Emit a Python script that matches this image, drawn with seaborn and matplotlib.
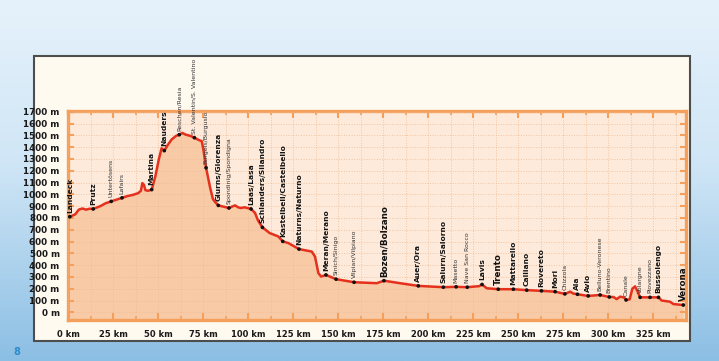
import numpy as np
import matplotlib
matplotlib.use("Agg")
import matplotlib.pyplot as plt
import seaborn as sns
from matplotlib.patches import Rectangle
from matplotlib.colors import LinearSegmentedColormap

# ---- data ----
profile_km = [1, 4, 6, 8, 10, 12, 14, 18, 21, 24, 27, 30, 33, 36, 39, 40.5, 41.3, 42.2, 43, 44.5,
              46.5, 48.5, 50.5, 52, 53.5, 55.5, 57.6, 60, 61.8, 63.5, 65.5, 68, 70.2, 72.4, 74.3,
              75.2, 76.7, 78.9, 80.5, 81.7, 83.5, 86.5, 89.4, 91, 92.8, 94.5, 96, 98, 101.7,
              103.9, 105.5, 108, 112, 116.8, 119.3, 122.4, 128.3, 135.4, 137.2, 139.1, 140.6,
              143.3, 148.9, 158.9, 171.5, 175.5, 184.4, 194.6, 208.5, 215.6, 221.8, 228.5, 230,
              232.6, 239, 247.4, 254.8, 263, 270.6, 276, 279, 280.5, 283, 289, 295.6, 300.7, 303,
              304.8, 306.7, 309, 310, 312, 313.5, 315, 316.3, 317.8, 323.3, 328, 329.8, 334.4,
              336.3, 341.8]
profile_m = [810, 830, 870, 880, 870, 878, 876, 900, 925, 940, 955, 970, 985, 995, 1010, 1030,
             1095, 1080, 1035, 1030, 1040, 1150, 1300, 1390, 1370, 1420, 1465, 1495, 1505, 1520,
             1505, 1495, 1480, 1462, 1450, 1380, 1225, 1060, 960, 935, 906, 895, 884, 895, 906,
             890, 884, 890, 876, 842, 780, 720, 672, 643, 601, 587, 536, 515, 473, 332, 303,
             317, 281, 255, 247, 268, 247, 224, 213, 216, 213, 222, 236, 204, 196, 196, 188,
             182, 175, 156, 175, 160, 153, 139, 147, 130, 130, 112, 133, 125, 105, 110, 200,
             220, 180, 127, 127, 127, 100, 90, 70, 62]

towns = ["Landeck", "Prutz", "Untertösens", "Lafairs", "Martina", "Nauders", "Reschen/Resia",
         "St. Valentin/S. Valentino", "Burgeis/Burgusio", "Glurns/Glorenza",
         "Spondinig/Spondigna", "Laas/Lasa", "Schlanders/Silandro", "Kastelbell/Castelbello",
         "Naturns/Naturno", "Meran/Merano", "Sinich/Sinigo", "Vilpian/Vilpiano",
         "Bozen/Bolzano", "Auer/Ora", "Salurn/Salorno", "Masetto", "Nave San Rocco", "Lavis",
         "Trento", "Mattarello", "Calliano", "Rovereto", "Mori", "Chizzola", "Ala", "Avio",
         "Belluno-Veronese", "Brentino", "Canale", "Volargne", "Piovezzano", "Bussolengo",
         "Verona"]
town_km = [1, 14, 24, 30, 46.5, 53.5, 61.8, 70.2, 76.7, 83.5, 89.4, 101.7, 108, 119.3, 128.3,
           143.3, 148.9, 158.9, 175.5, 194.6, 208.5, 215.6, 221.8, 230, 239, 247.4, 254.8, 263,
           270.6, 276, 283, 289, 295.6, 300.7, 310, 317.8, 323.3, 328, 341.8]
town_m = [810, 876, 940, 970, 1040, 1370, 1505, 1480, 1225, 906, 884, 876, 720, 601, 536, 317,
          281, 255, 268, 224, 213, 216, 213, 236, 196, 196, 188, 182, 175, 156, 153, 139, 147,
          130, 105, 127, 127, 127, 62]
town_style = ["b", "b", "s", "s", "b", "b", "s", "s", "s", "b", "s", "b", "b", "b", "b", "b",
              "s", "s", "B", "b", "b", "s", "s", "b", "B", "b", "b", "b", "b", "s", "b", "b",
              "s", "s", "s", "s", "s", "b", "B"]

x_ticks = list(range(0, 326, 25))
x_minor = [12.5 + 25 * i for i in range(14)]
y_ticks = list(range(0, 1701, 100))
x_labels = [f"{v} km" for v in x_ticks]
y_labels = [f"{v} m" for v in y_ticks]

# ---- styling ----
FONT = ['Liberation Sans Narrow', 'DejaVu Sans']
plt.rcParams['font.family'] = FONT
ORANGE = '#f4a05c'
W, H = 719, 361

fig = plt.figure(figsize=(W / 100, H / 100), dpi=100)

# background gradient + panel
bg = fig.add_axes([0, 0, 1, 1], zorder=-10)
cmap = LinearSegmentedColormap.from_list(
    'bg', [(0, '#e6f2fb'), (0.45, '#d0e6f6'), (1, '#8cbfe4')])
bg.imshow(np.linspace(0, 1, 256)[:, None], aspect='auto', cmap=cmap,
          extent=[0, 1, 0, 1], origin='upper')
bg.add_patch(Rectangle((34 / W, 1 - 341 / H), (690 - 34) / W, (341 - 56) / H,
                       fc='#fffaf0', ec='#4d4d4d', lw=1.5))
bg.set_xlim(0, 1)
bg.set_ylim(0, 1)
bg.axis('off')

ax = fig.add_axes([68 / W, 1 - 320 / H, (686 - 68) / W, (320 - 111) / H])
ax.set_facecolor('#fdeada')
ax.fill_between(profile_km, profile_m, -200, color='#f8caa5', lw=0, zorder=1)
sns.lineplot(x=profile_km, y=profile_m, ax=ax, color='#e4301c', lw=1.8, zorder=4,
             sort=False, estimator=None)
sns.scatterplot(x=town_km, y=town_m, ax=ax, color='#111111', s=7, zorder=5,
                edgecolor='none')

ax.set_xlim(0, 343.3)
ax.set_ylim(-65, 1706)
ax.set_xticks(x_ticks)
ax.set_xticks(x_minor, minor=True)
ax.set_yticks(y_ticks)
ax.set_xticklabels(x_labels, fontweight='bold', fontsize=6, color='#1a1a1a')
ax.set_yticklabels(y_labels, fontweight='bold', fontsize=6.3, color='#1a1a1a')
ax.set_axisbelow(False)
ax.grid(True, which='both', color='#eebc96', ls=(0, (1, 1.6)), lw=0.7, alpha=0.8)
ax.tick_params(which='major', direction='in', length=5, width=1.5, color=ORANGE,
               top=True, right=True, pad=7)
ax.tick_params(axis='y', which='major', length=4, pad=6)
ax.tick_params(which='minor', direction='in', length=3, width=1.2, color=ORANGE,
               top=True, right=True)
for s in ax.spines.values():
    s.set_color(ORANGE)
    s.set_linewidth(2.4)
ax.set_xlabel('')
ax.set_ylabel('')

styles = {
    'b': dict(fontsize=5.4, fontweight='bold', color='#141414'),
    'B': dict(fontsize=6.3, fontweight='bold', color='#101010'),
    's': dict(fontsize=4.5, fontweight='normal', color='#333333'),
}
for name, k, m, st in zip(towns, town_km, town_m, town_style):
    ax.annotate(name, (k, m), xytext=(0, 3), textcoords='offset points', rotation=90,
                ha='center', va='bottom', annotation_clip=False, zorder=6, **styles[st])

fig.text(17 / W, 1 - 352 / H, '8', color='#2a8ccc', fontsize=7, fontweight='bold',
         ha='center', va='center')

fig.savefig('out.png', dpi=100)
